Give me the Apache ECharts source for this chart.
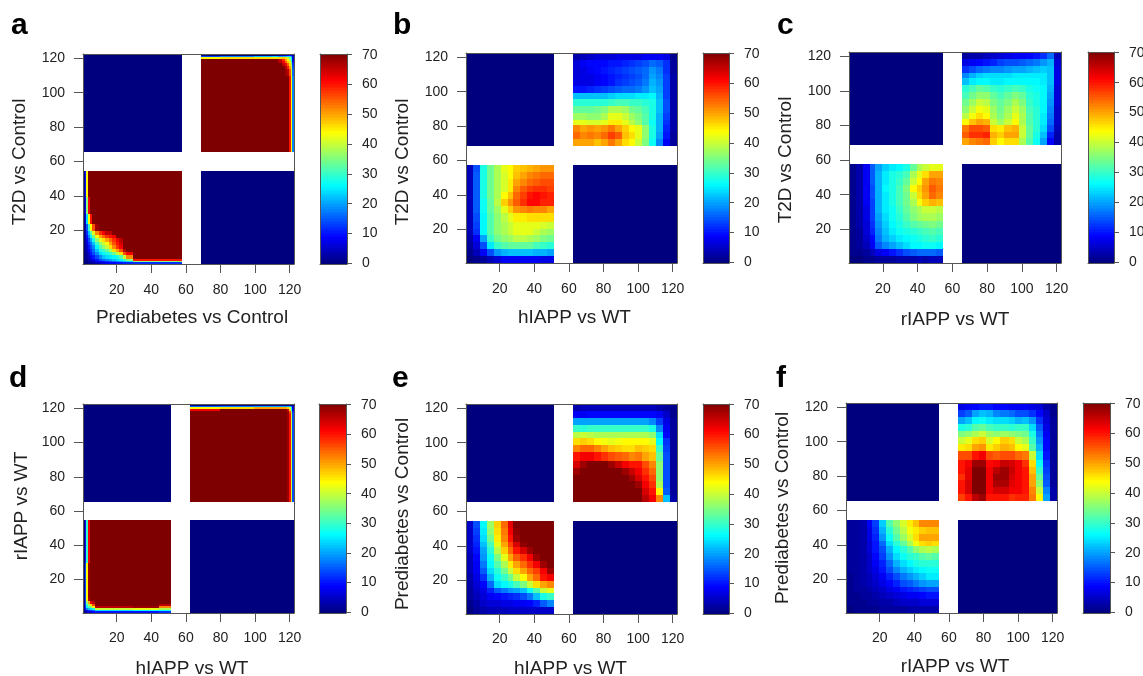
<!DOCTYPE html>
<html><head><meta charset="utf-8">
<style>html,body{margin:0;padding:0;background:#fff}#c{width:1143px;height:676px}</style>
<script src="https://cdn.jsdelivr.net/npm/echarts@6/dist/echarts.min.js"></script>
</head><body><div id="c"></div>
<script>
// ---------- data: rows run top (high rank) to bottom (low rank) ----------
const rankTicks = [20,40,60,80,100,120];
const barTicks = [0,10,20,30,40,50,60,70];

// panel a
const aLowXStarts = [1,2,3,4,5,6,8,10,12,14,16,18,20,22,24,26,30];
const aLowYStarts = [1,2,3,4,6,8,10,12,14,16,18,20,24,30,40];
const aLow = [
[1,10,44,70,70,70,70,70,70,70,70,70,70,70,70,70,70],
[1,8,36,62,70,70,70,70,70,70,70,70,70,70,70,70,70],
[1,6,24,44,60,70,70,70,70,70,70,70,70,70,70,70,70],
[1,4,15,30,44,56,68,70,70,70,70,70,70,70,70,70,70],
[0,3,12,22,32,42,52,58,62,66,66,70,70,70,70,70,70],
[0,3,10,18,26,34,44,50,54,58,60,62,70,70,70,70,70],
[0,2,8,14,20,28,36,42,46,50,54,58,62,66,70,70,70],
[0,2,6,12,16,22,30,36,40,44,50,56,60,64,70,70,70],
[0,2,5,10,14,18,26,32,36,40,46,52,58,62,70,70,70],
[0,2,4,8,12,16,22,28,30,33,38,46,50,56,66,70,70],
[0,1,3,6,10,14,18,24,26,28,30,34,40,46,56,62,70],
[0,1,2,4,8,10,14,18,22,24,25,26,28,32,40,52,70],
[0,1,1,3,5,7,10,14,16,18,20,22,24,26,30,36,60],
[0,0,1,2,3,5,7,9,10,12,14,16,18,20,22,24,36],
[0,0,0,1,1,2,4,5,6,8,9,9,10,10,11,11,12]];
const aHighXStarts = [69,80,100,110,114,116,118,119,120,121,122];
const aHighYStarts = [66,110,114,116,118,119,120,121,122];
const aHigh = [
[0,0,0,0,2,3,4,8,10,8,3],
[14,18,22,24,20,22,22,24,24,18,6],
[44,46,46,46,46,48,46,40,34,26,6],
[70,70,70,70,66,58,50,44,38,26,6],
[70,70,70,70,66,62,54,48,42,30,10],
[70,70,70,70,70,66,62,54,46,36,12],
[70,70,70,70,70,70,66,60,50,40,14],
[70,70,70,70,70,70,68,66,56,42,16],
[70,70,70,70,70,70,70,70,60,44,18]];

// panel b
const bLow = [
[4,14,28,34,38,42,44,47,48,49,50,51,51],
[4,15,28,34,38,41,44,48,50,52,53,54,54],
[4,15,28,34,38,41,45,50,52,54,55,56,56],
[4,15,28,34,38,41,45,52,55,57,58,58,57],
[4,15,28,34,38,44,48,54,57,60,61,60,59],
[4,15,27,33,39,47,51,55,58,61,61,59,59],
[4,15,27,33,37,42,47,51,52,53,52,52,50],
[4,14,26,32,36,39,42,45,45,46,46,46,46],
[4,13,26,32,36,38,40,42,42,42,42,41,40],
[4,12,26,32,36,38,40,42,42,42,40,38,37],
[3,8,20,30,34,36,37,39,39,38,37,35,34],
[2,6,14,25,30,32,33,33,33,33,31,30,29],
[1,4,8,14,19,21,22,22,22,22,21,21,20],
[0,1,2,4,6,8,8,8,8,8,8,7,7]];
const bHigh = [
[3,4,5,6,6,6,7,7,7,7,8,8,8,7,1],
[6,8,9,9,9,10,10,11,12,13,14,16,15,12,2],
[6,7,8,9,10,11,12,13,14,15,16,19,17,12,2],
[6,7,7,8,9,10,11,12,13,14,16,20,18,13,3],
[7,7,7,8,9,10,12,13,14,15,17,21,19,13,3],
[10,10,11,12,13,14,15,16,16,17,19,22,20,13,3],
[22,22,22,22,22,23,24,24,24,25,25,26,21,13,3],
[29,29,29,29,29,30,31,31,30,30,29,28,22,14,3],
[33,33,33,34,35,38,38,37,34,33,31,28,22,14,3],
[37,37,36,36,38,42,42,40,37,35,32,28,21,13,3],
[42,42,41,41,42,45,45,42,39,36,32,27,21,12,3],
[52,50,51,50,51,53,50,47,44,42,36,28,21,11,3],
[54,52,53,52,54,57,55,48,46,42,36,28,20,10,2],
[50,50,50,48,50,53,50,46,44,40,35,27,18,8,2]];

// panel c
const cLow = [
[1,3,8,15,20,23,25,26,28,33,38,40,42,42],
[1,3,8,15,21,25,28,29,31,38,42,46,50,50],
[1,3,8,15,21,25,28,30,33,40,44,50,53,52],
[1,3,8,14,21,26,28,31,35,44,47,51,55,53],
[1,3,8,14,21,25,28,31,34,40,46,50,54,52],
[1,3,8,13,21,25,28,31,34,38,43,47,49,48],
[1,3,7,13,21,25,27,30,33,36,38,40,40,39],
[1,3,7,13,20,24,27,29,32,35,37,38,38,37],
[1,3,6,12,19,23,26,28,30,32,33,34,35,34],
[1,2,6,11,18,22,25,27,28,29,30,31,32,31],
[1,2,5,9,17,21,23,25,26,27,28,29,30,29],
[1,2,4,8,15,18,20,22,24,26,26,27,27,26],
[1,1,2,4,7,8,10,12,14,15,16,16,16,15],
[0,0,1,1,2,2,2,3,3,3,4,3,4,4]];
const cHigh = [
[2,3,3,4,5,6,7,8,8,9,10,12,16,4],
[7,8,9,10,11,13,14,14,15,16,17,19,21,6],
[12,14,16,17,18,18,19,20,20,21,22,23,22,7],
[18,21,23,24,24,24,24,25,25,25,25,25,22,7],
[22,25,26,26,25,25,26,26,26,26,26,25,22,7],
[29,31,33,32,30,29,30,31,30,28,27,26,21,6],
[31,34,36,36,33,31,33,35,33,29,28,26,20,6],
[34,37,40,39,35,33,35,38,35,30,28,26,19,6],
[36,40,43,42,37,34,37,40,37,31,29,26,18,5],
[39,43,46,44,38,35,38,42,38,32,29,25,17,5],
[44,48,50,49,40,37,40,44,38,32,29,25,16,5],
[53,56,56,55,46,45,48,49,40,33,29,24,14,4],
[55,58,58,59,49,47,50,50,40,33,28,22,11,3],
[50,52,53,54,47,44,46,46,38,32,27,20,9,3]];

// panel d
const dLowXStarts = [1,2,3,4,5,6,8,30,45];
const dLowYStarts = [1,2,3,4,5,6,8,10,30];
const dLow = [
[0,10,30,62,70,70,70,70,70],
[1,14,44,68,70,70,70,70,70],
[1,14,44,66,70,70,70,70,70],
[2,14,36,50,62,66,70,70,70],
[2,14,30,38,46,56,70,70,66],
[2,12,26,32,36,44,66,68,52],
[2,10,18,22,24,28,40,42,38],
[1,5,8,12,14,16,24,26,26],
[0,2,4,6,7,8,10,10,12]];
const dHighXStarts = [63,80,100,118,119,120,121,122];
const dHighYStarts = [66,118,119,120,121,122];
const dHigh = [
[1,1,1,1,2,3,4,2],
[16,18,20,20,20,20,16,5],
[44,46,50,50,46,40,26,6],
[62,70,70,70,64,46,28,8],
[70,70,70,70,68,56,38,12],
[70,70,70,70,68,60,40,14]];

// panel e
const eLow = [
[5,14,26,37,47,54,63,70,70,70,70,70,70],
[5,13,25,36,46,53,62,69,70,70,70,70,70],
[5,12,24,34,45,52,60,68,70,70,70,70,70],
[5,11,22,31,42,50,57,64,69,70,70,70,70],
[5,10,20,29,39,47,54,60,64,68,70,70,70],
[4,9,19,27,35,42,50,55,58,62,68,70,70],
[4,8,17,26,32,38,45,50,54,58,62,68,70],
[4,8,15,24,29,34,40,46,50,54,57,62,68],
[3,7,12,21,27,30,34,40,44,50,54,60,62],
[3,6,9,16,24,26,28,31,35,40,46,50,52],
[2,5,7,11,15,17,19,20,22,27,32,40,42],
[2,4,6,8,9,10,11,12,14,17,22,28,30],
[1,3,5,6,6,7,7,8,8,9,11,15,18],
[0,2,3,4,4,4,5,5,5,5,5,5,5]];
const eHigh = [
[3,4,4,4,4,4,4,4,4,4,4,4,3,2,1],
[8,8,9,9,9,9,9,9,9,9,9,9,8,5,1],
[20,20,20,20,20,20,20,20,20,20,20,18,13,7,2],
[30,29,30,30,30,30,30,30,30,30,30,28,18,8,2],
[39,40,39,38,38,38,38,38,38,38,38,36,24,9,2],
[46,47,46,44,43,42,43,44,44,44,44,42,26,12,2],
[52,54,54,52,50,48,47,46,46,48,47,46,30,13,2],
[60,62,62,60,58,56,55,54,52,53,50,48,33,14,2],
[64,68,70,70,70,68,65,62,60,60,56,52,36,14,2],
[68,70,70,70,70,70,70,68,65,62,58,54,36,14,2],
[70,70,70,70,70,70,70,70,68,64,60,56,36,14,2],
[70,70,70,70,70,70,70,70,70,68,62,58,38,14,2],
[70,70,70,70,70,70,70,70,70,70,64,60,44,15,2],
[70,70,70,70,70,70,70,70,70,70,66,62,52,22,3]];

// panel f
const fLow = [
[2,2,3,8,13,23,32,36,41,45,48,52,52,52],
[2,2,3,7,12,21,29,34,39,43,45,47,48,48],
[2,2,3,7,11,19,27,32,37,41,46,50,50,50],
[2,2,3,6,10,16,24,29,33,38,43,46,47,46],
[2,2,3,6,10,14,21,26,29,32,36,38,39,38],
[2,2,3,5,9,13,19,24,27,29,30,32,33,32],
[2,2,3,5,8,11,16,21,24,26,28,29,29,29],
[2,2,3,5,7,10,14,18,21,23,25,26,27,27],
[1,2,3,4,6,8,11,14,17,19,21,23,25,25],
[1,2,3,4,5,7,9,11,14,15,17,19,20,20],
[1,2,2,3,4,5,7,8,10,11,12,13,14,14],
[1,1,2,2,3,4,5,6,7,8,8,9,10,10],
[1,1,1,2,2,3,3,4,5,5,5,6,6,6],
[0,1,1,1,1,2,2,2,2,3,3,3,3,3]];
const fHigh = [
[7,8,9,10,10,9,9,8,8,8,7,6,3,1],
[13,15,20,22,21,18,17,16,14,14,12,9,5,1],
[20,22,26,27,25,24,24,23,21,22,19,12,6,2],
[28,29,32,33,31,30,30,29,30,30,24,15,7,2],
[35,36,38,40,37,36,37,36,35,34,28,17,8,2],
[40,42,46,47,41,44,47,46,40,38,30,19,9,2],
[45,46,50,51,45,47,49,48,44,42,32,21,9,2],
[56,56,60,62,56,55,56,56,54,53,40,24,10,2],
[60,62,68,68,61,62,65,64,62,58,46,27,12,2],
[60,63,70,70,62,66,68,65,62,60,48,30,13,2],
[58,63,70,70,62,68,68,64,62,60,50,33,14,2],
[60,64,70,70,62,67,67,63,62,60,50,36,15,2],
[60,64,70,70,62,64,64,62,62,60,52,40,18,3],
[57,60,66,68,60,60,60,58,59,59,53,44,20,3]];

// ---------- layout ----------
const jet = ['#00007F','#0000FF','#007FFF','#00FFFF','#7FFF7F','#FFFF00','#FF7F00','#FF0000','#7F0000'];
const FONT = '"Liberation Sans", Arial, sans-serif';
const INK = '#222';
const FRAME = '#555';
const panels = [
 {tag:'a',xn:'Prediabetes vs Control',yn:'T2D vs Control',box:[83,54,294,264],bar:[320,347],tag0:[11,11],xGap:[58,68],yGap:[55,65],low:aLow,high:aHigh,lowX:aLowXStarts,lowY:aLowYStarts,highX:aHighXStarts,highY:aHighYStarts,xs:3.5,ys:3,xg:44,yg:54,lm:19},
 {tag:'b',xn:'hIAPP vs WT',yn:'T2D vs Control',box:[466,53,677,263],bar:[703,729],tag0:[393,11],xGap:[52,62],yGap:[58,68],low:bLow,high:bHigh,xs:3,ys:4,xg:45,yg:54,lm:19},
 {tag:'c',xn:'rIAPP vs WT',yn:'T2D vs Control',box:[849,52,1061,263],bar:[1088,1114],tag0:[777,11],xGap:[55,65],yGap:[58,68],low:cLow,high:cHigh,xs:0,ys:2.5,xg:47,yg:54,lm:19},
 {tag:'d',xn:'hIAPP vs WT',yn:'rIAPP vs WT',box:[83,404,294,613],bar:[319,346],tag0:[9,364],xGap:[52,62],yGap:[55,65],low:dLow,high:dHigh,lowX:dLowXStarts,lowY:dLowYStarts,highX:dHighXStarts,highY:dHighYStarts,xs:3.5,ys:-2.5,xg:46,yg:52,lm:18},
 {tag:'e',xn:'hIAPP vs WT',yn:'Prediabetes vs Control',box:[466,404,677,614],bar:[703,729],tag0:[392,364],xGap:[52,62],yGap:[55,65],low:eLow,high:eHigh,xs:-1,ys:5,xg:45,yg:54,lm:18},
 {tag:'f',xn:'rIAPP vs WT',yn:'Prediabetes vs Control',box:[846,403,1057,613],bar:[1083,1110],tag0:[776,364],xGap:[55,65],yGap:[55,65],low:fLow,high:fHigh,xs:3.5,ys:0,xg:44,yg:54,lm:18}
];

const ranks = []; for (let r=1;r<=122;r++) ranks.push(String(r));
const levels = []; for (let l=0;l<=140;l++) levels.push(String(l/2));
const isRankTick = (i,v)=>rankTicks.includes(Number(v));
const isBarTick = (i,v)=>barTicks.includes(Number(v));

// first rank of every block of a quadrant, plus one past the end
function edges(lo,hi,n,starts){
  const e=[]; 
  if(starts){ starts.forEach(s=>e.push(s)); }
  else { const span=hi-lo+1; for(let i=0;i<n;i++) e.push(lo+Math.round(i*span/n)); }
  e.push(hi+1); return e;
}
function quadCells(m,xLo,xHi,yLo,yHi,xs,ys){
  const xe=edges(xLo,xHi,m[0].length,xs), ye=edges(yLo,yHi,m.length,ys), out=[];
  for(let r=0;r<m.length;r++){
    const k=m.length-1-r;
    for(let c=0;c<m[0].length;c++) out.push([xe[c]-1,xe[c+1]-2,ye[k]-1,ye[k+1]-2,m[r][c]]);
  }
  return out;
}
function cellsOf(p){
  const lx=p.xGap[0]-1,hx=p.xGap[1]+1,ly=p.yGap[0]-1,hy=p.yGap[1]+1;
  return [
    [0,lx-1,hy-1,121,0],          // upper left, empty
    [hx-1,121,0,ly-1,0],          // lower right, empty
    ...quadCells(p.low,1,lx,1,ly,p.lowX,p.lowY),
    ...quadCells(p.high,hx,122,hy,122,p.highX,p.highY)
  ];
}
function renderCell(params,api){
  const s=api.size([1,1]);
  const a=api.coord([api.value(0),api.value(2)]), b=api.coord([api.value(1),api.value(3)]);
  const x=Math.round(a[0]-s[0]/2), x2=Math.round(b[0]+s[0]/2);
  const y=Math.round(b[1]-s[1]/2), y2=Math.round(a[1]+s[1]/2);
  return {type:'rect',shape:{x:x,y:y,width:x2-x,height:y2-y},style:{fill:api.visual('color')}};
}
const cellSeries=(xi,yi,data)=>({type:'custom',coordinateSystem:'cartesian2d',xAxisIndex:xi,yAxisIndex:yi,data:data,renderItem:renderCell,
  encode:{x:0,y:2},dimensions:['x0','x1','y0','y1','score'],clip:false,silent:true,z:1,progressive:0});

const opt={animation:false,backgroundColor:'#fff',title:[],grid:[],xAxis:[],yAxis:[],series:[],
  visualMap:{show:false,min:0,max:70,dimension:4,seriesIndex:[],inRange:{color:jet}}};
const lineOnly=(extra)=>Object.assign({type:'value',min:0,max:1,z:5,axisLine:{show:true,onZero:false,lineStyle:{color:FRAME,width:1}},axisTick:{show:false},axisLabel:{show:false},splitLine:{show:false}},extra);
const axisBase=(extra)=>Object.assign({type:'category',z:5,axisLine:{show:true,onZero:false,lineStyle:{color:FRAME,width:1}},splitLine:{show:false},splitArea:{show:false}},extra);
const labelStyle=(m,itv)=>({show:true,interval:itv,margin:m,color:INK,fontFamily:FONT,fontSize:14,hideOverlap:false});
const nameStyle=(pad)=>({color:INK,fontFamily:FONT,fontSize:19,padding:pad});

panels.forEach(p=>{
  const [x0,y0,x1,y1]=p.box;
  opt.title.push({text:p.tag,left:p.tag0[0],top:p.tag0[1],padding:0,textStyle:{fontFamily:FONT,fontWeight:'bold',fontSize:30,color:'#000'}});
  let g=opt.grid.length;
  opt.grid.push({left:x0,top:y0,width:x1-x0,height:y1-y0,show:false,containLabel:false,outerBoundsMode:'none'});
  let xi=opt.xAxis.length, yi=opt.yAxis.length;
  const xPad=p.xs>=0?[0,0,0,2*p.xs]:[0,-2*p.xs,0,0];
  const yPad=p.ys>=0?[0,2*p.ys,0,0]:[0,0,0,-2*p.ys];
  opt.xAxis.push(axisBase({gridIndex:g,data:ranks,position:'bottom',name:p.xn,nameLocation:'middle',nameGap:p.xg,nameTextStyle:nameStyle(xPad),
    axisTick:{show:true,interval:isRankTick,alignWithLabel:true,length:9,lineStyle:{color:FRAME}},axisLabel:labelStyle(p.lm,isRankTick)}));
  opt.xAxis.push(lineOnly({gridIndex:g,position:'top'}));
  opt.yAxis.push(axisBase({gridIndex:g,data:ranks,position:'left',name:p.yn,nameLocation:'middle',nameGap:p.yg,nameTextStyle:nameStyle(yPad),
    axisTick:{show:true,interval:isRankTick,alignWithLabel:true,length:9,lineStyle:{color:FRAME}},axisLabel:labelStyle(18,isRankTick)}));
  opt.yAxis.push(lineOnly({gridIndex:g,position:'right'}));
  opt.visualMap.seriesIndex.push(opt.series.length);
  opt.series.push(cellSeries(xi,yi,cellsOf(p)));
  g=opt.grid.length;
  opt.grid.push({left:p.bar[0],top:y0,width:p.bar[1]-p.bar[0],height:y1-y0,show:false,containLabel:false,outerBoundsMode:'none'});
  xi=opt.xAxis.length; yi=opt.yAxis.length;
  opt.xAxis.push(axisBase({gridIndex:g,data:[''],position:'bottom',axisTick:{show:false},axisLabel:{show:false}}));
  opt.xAxis.push(lineOnly({gridIndex:g,position:'top'}));
  opt.yAxis.push(axisBase({gridIndex:g,data:levels,position:'right',axisTick:{show:true,interval:isBarTick,alignWithLabel:true,length:5,lineStyle:{color:FRAME}},axisLabel:labelStyle(15,isBarTick)}));
  opt.yAxis.push(lineOnly({gridIndex:g,position:'left'}));
  opt.visualMap.seriesIndex.push(opt.series.length);
  opt.series.push(cellSeries(xi,yi,levels.map((l,i)=>[0,0,i,i,Number(l)])));
});
echarts.init(document.getElementById('c'),null,{renderer:'canvas'}).setOption(opt);
</script></body></html>
